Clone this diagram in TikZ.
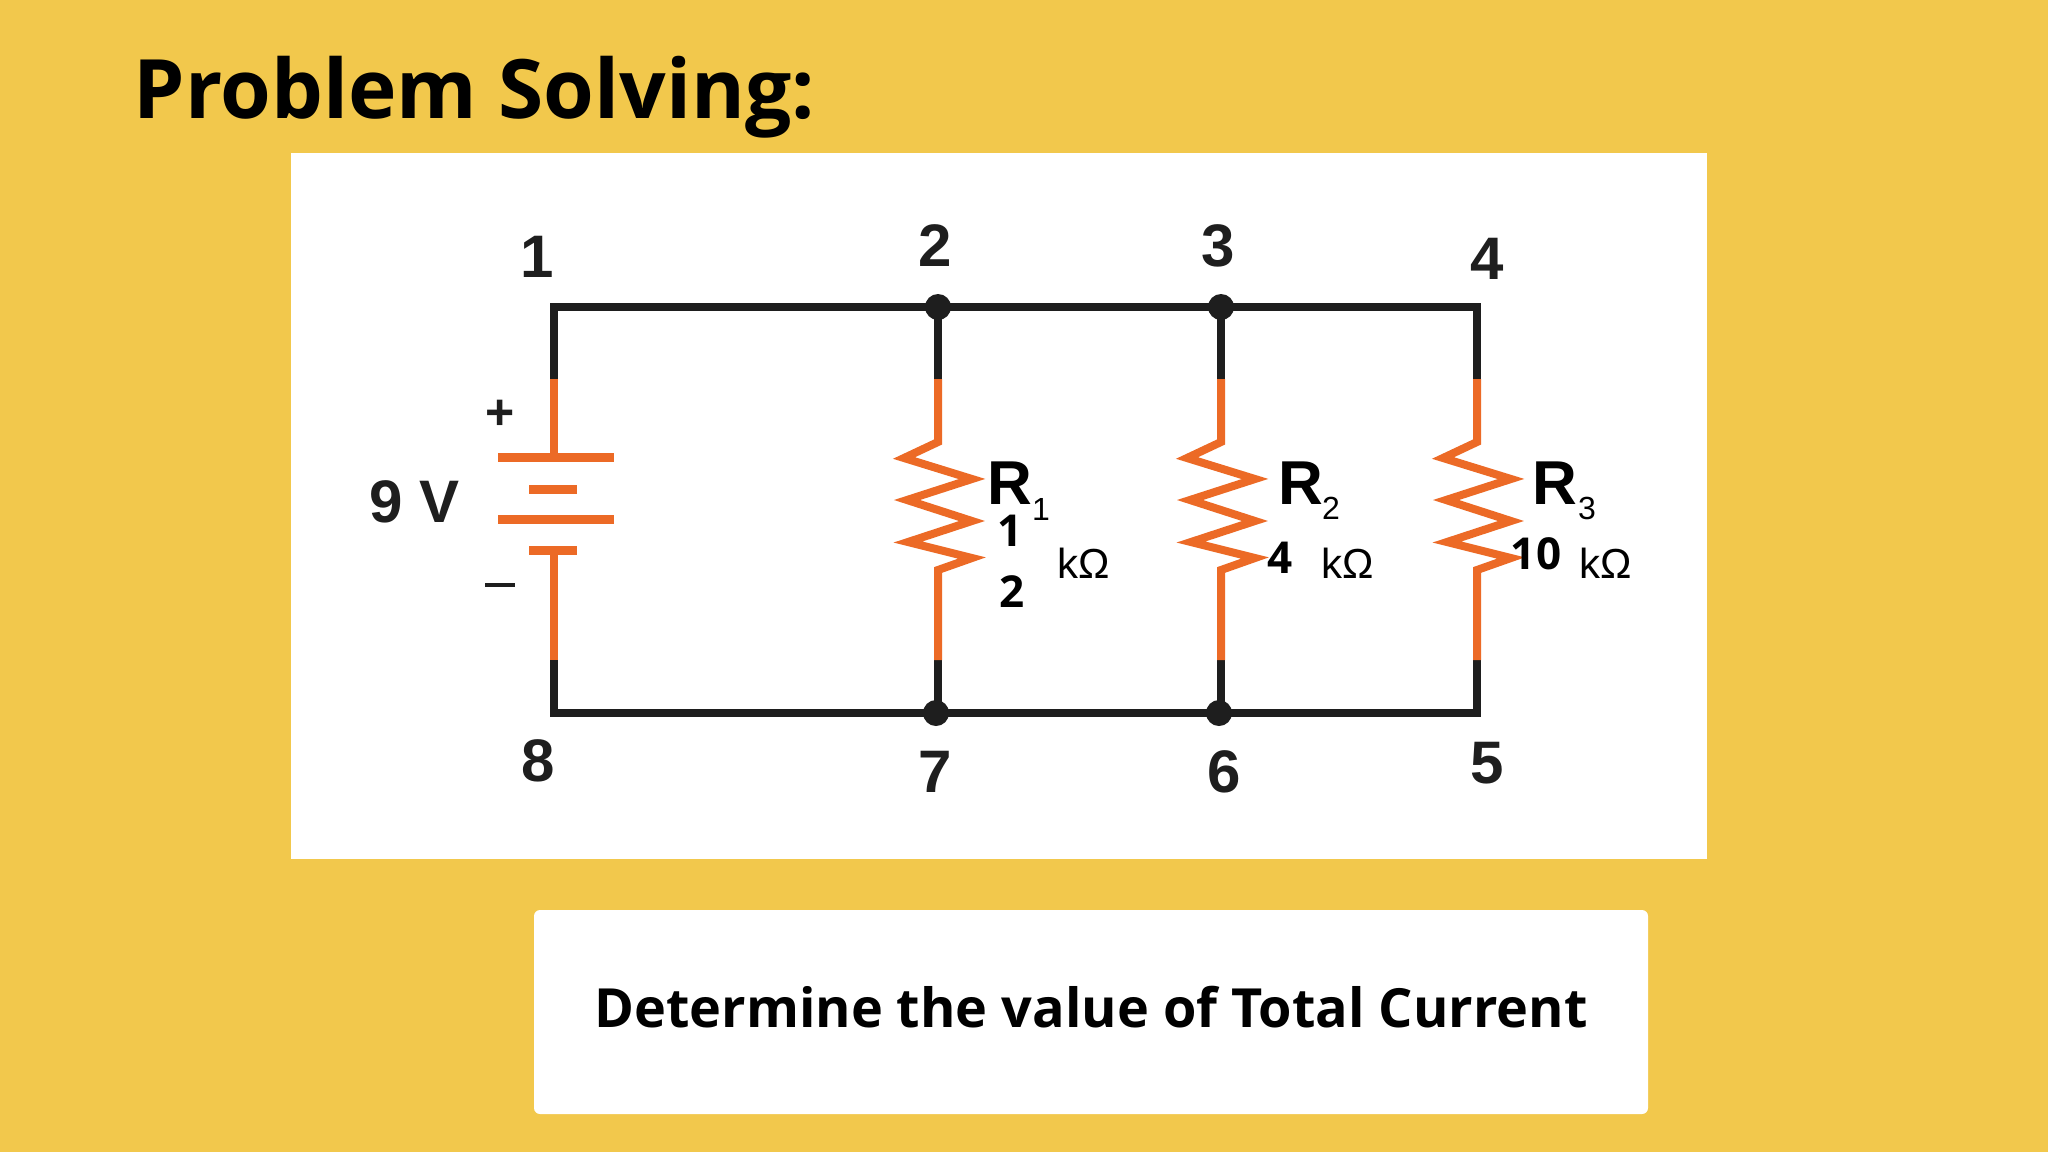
\documentclass[tikz,border=0pt]{standalone}
\usepackage{fontspec}
\setmainfont{Open Sans}
\newfontfamily\arial{Liberation Sans}
\definecolor{bgy}{RGB}{242,200,76}
\definecolor{wireor}{RGB}{236,106,38}
\definecolor{wireblk}{RGB}{30,30,30}
\tikzset{
 wire/.style={draw=wireblk,line width=8pt},
 owire/.style={draw=wireor,line width=8pt,line join=miter},
 plate/.style={draw=wireor,line width=9pt},
 dotnode/.style={circle,fill=wireblk,minimum size=26pt,inner sep=0pt},
 num/.style={font=\arial\fontsize{60}{60}\selectfont\bfseries,text=wireblk},
 rlab/.style={font=\arial\fontsize{62}{62}\selectfont\bfseries},
 rsub/.style={font=\arial\fontsize{32}{32}\selectfont},
 val/.style={font=\fontsize{44}{44}\selectfont\bfseries},
 unit/.style={font=\arial\fontsize{42}{42}\selectfont},
}
\begin{document}
\begin{tikzpicture}[x=1pt,y=-1pt]
\fill[bgy] (0,0) rectangle (2048,1152);
\useasboundingbox (0,0) rectangle (2048,1152);
\fill[white] (291,153) rectangle (1707,859);
\fill[white,rounded corners=6pt] (534,910) rectangle (1648,1114);
\node[anchor=base west,font=\fontsize{82}{82}\selectfont\bfseries] (title) at (130,118) {Problem Solving:};
\node[font=\fontsize{54}{54}\selectfont\bfseries] (q) at (1091,1007) {Determine the value of Total Current};
\coordinate (n1) at (554,307); \coordinate (n4) at (1477,307);
\coordinate (n8) at (554,713); \coordinate (n5) at (1477,713);
\node[dotnode] (n2) at (938,307) {}; \node[dotnode] (n3) at (1221,307) {};
\node[dotnode] (n7) at (936,713) {}; \node[dotnode] (n6) at (1219,713) {};
\draw[wire,line join=miter] (554,379) -- (n1) -- (n4) -- (1477,379);
\draw[wire,line join=miter] (554,660) -- (n8) -- (n5) -- (1477,660);
\draw[owire] (554,379) -- (554,457);
\draw[owire] (554,550) -- (554,660);
\draw[plate] (498,457) -- (614,457);
\draw[plate] (529,489) -- (577,489);
\draw[plate] (498,519) -- (614,519);
\draw[plate] (529,550) -- (577,550);
\foreach \x/\nt/\nb in {938/n2/n7,1221/n3/n6,1477/n4/n5}{
 \draw[wire] (\x,307) -- (\x,379);
 \draw[wire] (\x,660) -- (\x,713);
 \draw[owire] (\x,379) -- (\x,442) -- (\x-34,458) -- (\x+34,479) -- (\x-31,500) -- (\x+34,521) -- (\x-30,542) -- (\x+34,558) -- (\x,570) -- (\x,660);
}
\node[num] (l1) at (537,257) {1};
\node[num] (l2) at (935,246) {2};
\node[num] (l3) at (1218,246) {3};
\node[num] (l4) at (1487,259) {4};
\node[num] (l8) at (538,761) {8};
\node[num] (l7) at (935,772) {7};
\node[num] (l6) at (1224,772) {6};
\node[num] (l5) at (1487,763) {5};
\node[num] (bv) at (415,502) {9 V};
\node[num,font=\arial\fontsize{50}{50}\selectfont\bfseries] (plus) at (500,415) {+};
\node[num] (minus) at (500,585) {\rule{30pt}{4pt}};
\node[rlab] (r1) at (1010,483) {R}; \node[rsub] (s1) at (1041,509) {1};
\node[val] (v1a) at (1010,531) {1}; \node[val] (v1b) at (1012,592) {2};
\node[unit] (u1) at (1084,563) {kΩ};
\node[rlab] (r2) at (1301,483) {R}; \node[rsub] (s2) at (1331,508) {2};
\node[val] (v2) at (1280,558) {4}; \node[unit] (u2) at (1348,563) {kΩ};
\node[rlab] (r3) at (1555,483) {R}; \node[rsub] (s3) at (1587,508) {3};
\node[val] (v3) at (1536,554) {10}; \node[unit] (u3) at (1606,563) {kΩ};
\end{tikzpicture}
\end{document}
